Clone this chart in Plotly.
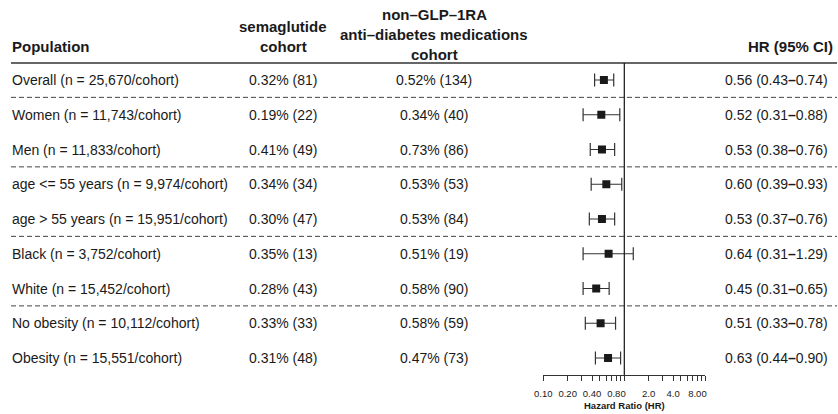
import plotly.graph_objects as go

# ---------------- data ----------------
populations = [
    "Overall (n = 25,670/cohort)",
    "Women (n = 11,743/cohort)",
    "Men (n = 11,833/cohort)",
    "age <= 55 years (n = 9,974/cohort)",
    "age > 55 years (n = 15,951/cohort)",
    "Black (n = 3,752/cohort)",
    "White (n = 15,452/cohort)",
    "No obesity (n = 10,112/cohort)",
    "Obesity (n = 15,551/cohort)",
]
sema_pct = [0.32, 0.19, 0.41, 0.34, 0.30, 0.35, 0.28, 0.33, 0.31]
sema_n = [81, 22, 49, 34, 47, 13, 43, 33, 48]
non_pct = [0.52, 0.34, 0.73, 0.53, 0.53, 0.51, 0.58, 0.58, 0.47]
non_n = [134, 40, 86, 53, 84, 19, 90, 59, 73]
hr = [0.56, 0.52, 0.53, 0.60, 0.53, 0.64, 0.45, 0.51, 0.63]
hr_lo = [0.43, 0.31, 0.38, 0.39, 0.37, 0.31, 0.31, 0.33, 0.44]
hr_hi = [0.74, 0.88, 0.76, 0.93, 0.76, 1.29, 0.65, 0.78, 0.90]
group_breaks = [0.5, 2.5, 4.5, 6.5]

tick_vals = [0.1, 0.2, 0.4, 0.8, 2, 4, 8]
tick_text = ["0.10", "0.20", "0.40", "0.80", "2.0", "4.0", "8.00"]
minor_tick_vals = [0.3, 0.5, 0.6, 0.7, 0.9, 1, 3, 5, 6, 7, 9, 10]

headers = {
    "pop": "Population",
    "sema": ["semaglutide", "cohort"],
    "non": ["non\u2013GLP\u20131RA", "anti\u2013diabetes medications", "cohort"],
    "hr": "HR (95% CI)",
}

# ---------------- layout helpers ----------------
W, H = 838, 414
FONT = "Liberation Sans, Arial, Helvetica, sans-serif"
TXT = "#1a1a1a"
LINE = "#333333"


def px(x):
    return x / W


def py(y):
    return 1 - y / H


rows = list(range(len(populations)))
y_top_px, y_bot_px = 63, 375
row0_px, row_step = 80, 34.75
y_range = [(y_bot_px - row0_px) / row_step, (y_top_px - row0_px) / row_step]

fig = go.Figure()

fig.add_trace(go.Scatter(
    x=hr, y=rows, mode="markers",
    marker=dict(symbol="square", size=8, color=TXT),
    error_x=dict(type="data", symmetric=False,
                 array=[h - m for h, m in zip(hr_hi, hr)],
                 arrayminus=[m - l for m, l in zip(hr, hr_lo)],
                 color=LINE, thickness=1.2, width=6.5),
    hoverinfo="skip", showlegend=False,
))

ann = []
body = dict(family=FONT, size=14, color=TXT)
bold = dict(family=FONT, size=15, color=TXT, weight="bold")

for i, p in enumerate(populations):
    ann.append(dict(x=px(10), y=i, xref="paper", yref="y", text=p,
                    xanchor="left", yanchor="middle", showarrow=False, font=body))
    ann.append(dict(x=px(283), y=i, xref="paper", yref="y",
                    text=f"{sema_pct[i]:.2f}% ({sema_n[i]})",
                    xanchor="center", yanchor="middle", showarrow=False, font=body))
    ann.append(dict(x=px(434), y=i, xref="paper", yref="y",
                    text=f"{non_pct[i]:.2f}% ({non_n[i]})",
                    xanchor="center", yanchor="middle", showarrow=False, font=body))
    ann.append(dict(x=px(830), y=i, xref="paper", yref="y",
                    text=f"{hr[i]:.2f} ({hr_lo[i]:.2f}<b>\u2013</b>{hr_hi[i]:.2f})",
                    xanchor="right", yanchor="middle", showarrow=False, font=body))

# headers
ann.append(dict(x=px(10), y=py(46), xref="paper", yref="paper", text=headers["pop"],
                xanchor="left", yanchor="middle", showarrow=False, font=bold))
for t, yy in zip(headers["sema"], [26, 46]):
    ann.append(dict(x=px(283), y=py(yy), xref="paper", yref="paper", text=t,
                    xanchor="center", yanchor="middle", showarrow=False, font=bold))
for t, yy in zip(headers["non"], [14, 34, 54]):
    ann.append(dict(x=px(434), y=py(yy), xref="paper", yref="paper", text=t,
                    xanchor="center", yanchor="middle", showarrow=False, font=bold))
ann.append(dict(x=px(835), y=py(46), xref="paper", yref="paper", text=headers["hr"],
                xanchor="right", yanchor="middle", showarrow=False, font=bold))
ann.append(dict(x=0.5, y=py(405), xref="x domain", yref="paper",
                text="Hazard Ratio (HR)", xanchor="center", yanchor="middle",
                showarrow=False, font=dict(family=FONT, size=9.5, color=TXT, weight="bold")))

shapes = []
shapes.append(dict(type="line", xref="paper", yref="paper", x0=px(11), x1=px(837),
                   y0=py(y_top_px), y1=py(y_top_px), line=dict(color=LINE, width=1.3)))
for b in group_breaks:
    shapes.append(dict(type="line", xref="paper", yref="y", x0=px(11), x1=px(837),
                       y0=b, y1=b, line=dict(color="#444444", width=1, dash="5px,3px")))
shapes.append(dict(type="line", xref="x", yref="y domain", x0=1, x1=1, y0=0, y1=1,
                   line=dict(color="#111111", width=1.2)))

fig.update_layout(
    width=W, height=H,
    margin=dict(l=0, r=0, t=0, b=0, autoexpand=False),
    paper_bgcolor="white", plot_bgcolor="white",
    annotations=ann, shapes=shapes, showlegend=False,
    xaxis=dict(type="log", range=[-1, 1], domain=[px(543.3), px(705.3)],
               showgrid=False, zeroline=False, showline=True, linecolor=LINE, linewidth=1.2,
               tickmode="array", tickvals=tick_vals, ticktext=tick_text,
               ticks="outside", ticklen=5, tickwidth=1, tickcolor=LINE,
               tickfont=dict(family=FONT, size=9.5, color=TXT), ticklabelstandoff=4,
               minor=dict(tickmode="array", tickvals=minor_tick_vals, ticks="outside",
                          ticklen=5, tickwidth=1, tickcolor=LINE, showgrid=False),
               automargin=False, fixedrange=True),
    yaxis=dict(range=y_range, domain=[py(y_bot_px), py(y_top_px)], visible=False,
               automargin=False, fixedrange=True),
)

fig.write_html(
    "out.html",
    config={"displayModeBar": False},
    post_script="document.body.style.margin='0';document.body.style.overflow='hidden';",
)
